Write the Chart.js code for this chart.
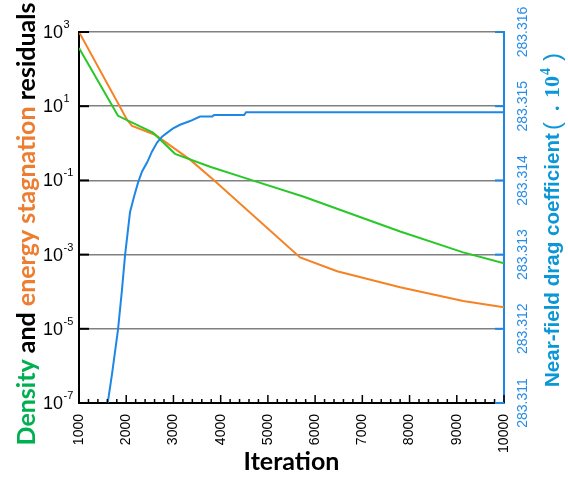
<!DOCTYPE html>
<html>
<head>
<meta charset="utf-8">
<script src="https://cdn.jsdelivr.net/npm/chart.js@4.4.0/dist/chart.umd.min.js"></script>
<style>
  html, body { margin: 0; padding: 0; background: #fff; }
  #wrap { width: 568px; height: 477px; }
</style>
</head>
<body>
<div id="wrap"><canvas id="grafik-residual" width="568" height="477"></canvas></div>
<script>
// residuals (left, log axis)
const iterDensity = [1000, 1826, 2568, 3034, 3775, 4623, 5746, 7801, 9136, 10000];
const density = [372, 5.5, 1.93, 0.52, 0.234, 0.105, 0.0367, 0.0042, 0.00115, 0.00058];

const iterEnergy = [1000, 2017, 2123, 2610, 3352, 3840, 5682, 6466, 7801, 9136, 10000];
const energy = [1000, 4.3, 2.95, 1.7, 0.363, 0.105, 0.00084, 0.000355, 0.000132, 0.000056, 0.000038];

// near-field drag coefficient (right axis)
const iterDrag = [1608, 1699, 1826, 1911, 1975, 2080, 2165, 2250, 2335, 2441, 2547, 2653, 2758, 2864,
                  2992, 3140, 3352, 3564, 3818, 3860, 4496, 4538, 10000];
const dragCoef = [283.3110, 283.31139, 283.31199, 283.31253, 283.31299, 283.31357, 283.31378, 283.31397,
                  283.31412, 283.31424, 283.31439, 283.31451, 283.31459, 283.31464, 283.31470, 283.31475,
                  283.31480, 283.31486, 283.31486, 283.31488, 283.31488, 283.31492, 283.31492];

// tick labels
const iterTicks = [1000, 2000, 3000, 4000, 5000, 6000, 7000, 8000, 9000, 10000];
const residualExp = [-7, -5, -3, -1, 1, 3];
const dragTicks = ["283.311", "283.312", "283.313", "283.314", "283.315", "283.316"];

const hijau = "rgb(40,200,40)";
const oranye = "rgb(245,130,35)";
const biru = "rgb(30,135,230)";

const toXY = (xs, ys) => xs.map((x, i) => ({ x: x, y: ys[i] }));

const gambarTeks = {
    id: "gambarTeks",
    afterDraw(chart) {
        const { ctx, chartArea: a, scales } = chart;
        ctx.save();

        // ticks pointing inward
        ctx.strokeStyle = "#000";
        ctx.lineWidth = 2;
        residualExp.forEach((e) => {
            const y = scales.y.getPixelForValue(Math.pow(10, e));
            ctx.beginPath();
            ctx.moveTo(a.left, y);
            ctx.lineTo(a.left + 10, y);
            ctx.stroke();
        });
        ctx.lineWidth = 1.5;
        for (let v = 1000; v <= 10000; v += 200) {
            const x = scales.x.getPixelForValue(v);
            const len = v % 1000 === 0 ? 8 : 4;
            ctx.beginPath();
            ctx.moveTo(x, a.bottom);
            ctx.lineTo(x, a.bottom - len);
            ctx.stroke();
        }
        ctx.strokeStyle = biru;
        ctx.lineWidth = 2;
        dragTicks.forEach((t) => {
            const y = scales.y2.getPixelForValue(parseFloat(t));
            ctx.beginPath();
            ctx.moveTo(a.right, y);
            ctx.lineTo(a.right - 9, y);
            ctx.stroke();
        });

        // left tick labels 10^n
        ctx.fillStyle = "#000";
        residualExp.forEach((e) => {
            const y = scales.y.getPixelForValue(Math.pow(10, e));
            ctx.font = "18px 'Liberation Sans', Arial";
            ctx.textAlign = "right";
            ctx.textBaseline = "middle";
            ctx.fillText("10", 63, y + 1);
            ctx.font = "11px 'Liberation Sans', Arial";
            ctx.textAlign = "left";
            ctx.textBaseline = "alphabetic";
            ctx.fillText(String(e), 63.5, y - 4);
        });

        // right tick labels, rotated
        ctx.fillStyle = "rgb(40,140,230)";
        ctx.font = "14px 'Liberation Sans', Arial";
        dragTicks.forEach((t) => {
            const y = scales.y2.getPixelForValue(parseFloat(t));
            ctx.save();
            ctx.translate(523, y);
            ctx.rotate(-Math.PI / 2);
            ctx.textAlign = "center";
            ctx.textBaseline = "middle";
            ctx.fillText(t, 0, 0);
            ctx.restore();
        });

        // x title
        ctx.fillStyle = "#000";
        ctx.font = "bold 25px Lato";
        ctx.textAlign = "center";
        ctx.textBaseline = "alphabetic";
        ctx.fillText("Iteration", (a.left + a.right) / 2, 470);

        // left title, multi colour
        const bagian = [
            ["Density", "rgb(0,176,80)"],
            [" and ", "#000"],
            ["energy stagnation", "rgb(237,125,49)"],
            [" residuals", "#000"],
        ];
        let ukuran = 25;
        ctx.font = "bold " + ukuran + "px Lato";
        let total = bagian.reduce((s, b) => s + ctx.measureText(b[0]).width, 0);
        ukuran = ukuran * 443 / total;
        ctx.font = "bold " + ukuran.toFixed(2) + "px Lato";
        total = bagian.reduce((s, b) => s + ctx.measureText(b[0]).width, 0);
        ctx.save();
        ctx.translate(35, 224);
        ctx.rotate(-Math.PI / 2);
        ctx.textAlign = "left";
        let pos = -total / 2;
        bagian.forEach((b) => {
            ctx.fillStyle = b[1];
            ctx.fillText(b[0], pos, 0);
            pos += ctx.measureText(b[0]).width;
        });
        ctx.restore();

        // right title
        ctx.save();
        ctx.translate(559, 387);
        ctx.rotate(-Math.PI / 2);
        ctx.fillStyle = "rgb(10,150,215)";
        ctx.textAlign = "left";
        const utama = "Near-field drag coefficient";
        ctx.font = "bold 21px 'Liberation Sans', Arial";
        const w = ctx.measureText(utama).width;
        ctx.font = "bold " + (21 * 254 / w).toFixed(2) + "px 'Liberation Sans', Arial";
        ctx.fillText(utama, 0, 0);
        ctx.font = "24px 'Liberation Sans', Arial";
        ctx.fillText("(", 257, 1);
        ctx.font = "bold 22px 'Liberation Serif'";
        ctx.fillText(".", 276, 0);
        ctx.fillText("10", 289, 0);
        ctx.font = "bold 14px 'Liberation Serif'";
        ctx.fillText("4", 312, -9);
        ctx.font = "24px 'Liberation Sans', Arial";
        ctx.fillText(")", 326, 1);
        ctx.restore();

        ctx.restore();
    },
};

new Chart(document.getElementById("grafik-residual"), {
    type: "line",
    data: {
        datasets: [
            {
                label: "Near-field drag coefficient",
                data: toXY(iterDrag, dragCoef),
                yAxisID: "y2",
                borderColor: biru,
                borderWidth: 2,
                pointRadius: 0,
                tension: 0,
            },
            {
                label: "Density",
                data: toXY(iterDensity, density),
                yAxisID: "y",
                borderColor: hijau,
                borderWidth: 2,
                pointRadius: 0,
            },
            {
                label: "Energy stagnation",
                data: toXY(iterEnergy, energy),
                yAxisID: "y",
                borderColor: oranye,
                borderWidth: 2,
                pointRadius: 0,
            },
        ],
    },
    options: {
        responsive: false,
        animation: false,
        layout: { padding: { top: 32, left: 0, right: 0, bottom: 0 } },
        plugins: { legend: { display: false }, tooltip: { enabled: false } },
        scales: {
            x: {
                type: "linear",
                min: 1000,
                max: 10000,
                afterBuildTicks: (s) => { s.ticks = iterTicks.map((v) => ({ value: v })); },
                afterFit: (s) => { s.height = 74; },
                grid: { display: false },
                border: { color: "#000", width: 2 },
                ticks: {
                    minRotation: 90,
                    maxRotation: 90,
                    padding: 3,
                    color: "#000",
                    font: { family: "'Liberation Sans', Arial", size: 14 },
                    callback: (v) => String(v),
                },
            },
            y: {
                type: "logarithmic",
                position: "left",
                min: 1e-7,
                max: 1e3,
                afterBuildTicks: (s) => { s.ticks = residualExp.map((e) => ({ value: Math.pow(10, e) })); },
                afterFit: (s) => { s.width = 79; },
                grid: { color: "#808080", lineWidth: 1.5, drawTicks: false },
                border: { color: "#000", width: 2 },
                ticks: { display: false },
            },
            y2: {
                type: "linear",
                position: "right",
                min: 283.311,
                max: 283.316,
                afterFit: (s) => { s.width = 64; },
                grid: { drawOnChartArea: false, drawTicks: false },
                border: { color: biru, width: 2 },
                ticks: { display: false },
            },
        },
    },
    plugins: [gambarTeks],
});
</script>
</body>
</html>
